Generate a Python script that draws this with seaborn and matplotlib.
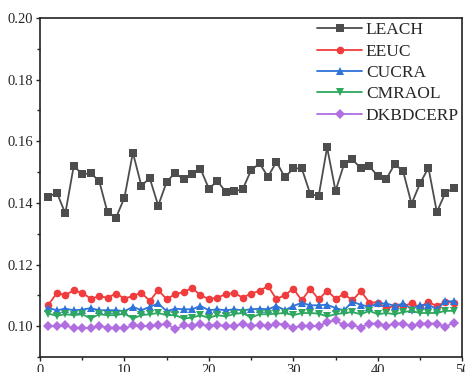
import numpy as np
import pandas as pd
import seaborn as sns
import matplotlib.pyplot as plt
from matplotlib.ticker import MultipleLocator

rounds = list(range(1, 50))
names = ['LEACH', 'EEUC', 'CUCRA', 'CMRAOL', 'DKBDCERP']

leach = [0.1420, 0.1433, 0.1366, 0.1520, 0.1493, 0.1496, 0.1472, 0.1369, 0.1352, 0.1417,
         0.1563, 0.1456, 0.1480, 0.1391, 0.1468, 0.1498, 0.1476, 0.1493, 0.1511, 0.1446,
         0.1471, 0.1436, 0.1438, 0.1444, 0.1506, 0.1528, 0.1485, 0.1533, 0.1483, 0.1512,
         0.1512, 0.1429, 0.1422, 0.1580, 0.1439, 0.1525, 0.1541, 0.1512, 0.1519, 0.1487,
         0.1477, 0.1526, 0.1503, 0.1397, 0.1463, 0.1514, 0.1370, 0.1433, 0.1447]
eeuc = [0.1070, 0.1108, 0.1101, 0.1117, 0.1108, 0.1090, 0.1097, 0.1093, 0.1106, 0.1090,
        0.1098, 0.1109, 0.1082, 0.1117, 0.1088, 0.1104, 0.1111, 0.1124, 0.1101, 0.1088,
        0.1093, 0.1104, 0.1108, 0.1093, 0.1106, 0.1115, 0.1130, 0.1088, 0.1101, 0.1122,
        0.1084, 0.1122, 0.1087, 0.1115, 0.1090, 0.1104, 0.1084, 0.1114, 0.1077, 0.1077,
        0.1059, 0.1066, 0.1066, 0.1074, 0.1063, 0.1079, 0.1065, 0.1079, 0.1077]
cucra = [0.1059, 0.1052, 0.1057, 0.1052, 0.1054, 0.1059, 0.1052, 0.1052, 0.1052, 0.1049,
         0.1063, 0.1052, 0.1063, 0.1074, 0.1049, 0.1057, 0.1055, 0.1055, 0.1066, 0.1052,
         0.1055, 0.1052, 0.1055, 0.1052, 0.1055, 0.1057, 0.1055, 0.1066, 0.1052, 0.1066,
         0.1076, 0.1068, 0.1068, 0.1070, 0.1059, 0.1052, 0.1079, 0.1070, 0.1063, 0.1074,
         0.1074, 0.1066, 0.1074, 0.1057, 0.1068, 0.1070, 0.1055, 0.1081, 0.1081]
cmraol = [0.1041, 0.1034, 0.1039, 0.1036, 0.1039, 0.1025, 0.1039, 0.1036, 0.1036, 0.1041,
          0.1025, 0.1036, 0.1039, 0.1043, 0.1036, 0.1036, 0.1025, 0.1028, 0.1036, 0.1027,
          0.1036, 0.1032, 0.1040, 0.1043, 0.1028, 0.1039, 0.1039, 0.1041, 0.1043, 0.1036,
          0.1043, 0.1043, 0.1041, 0.1032, 0.1039, 0.1043, 0.1046, 0.1039, 0.1050, 0.1039,
          0.1043, 0.1039, 0.1046, 0.1050, 0.1043, 0.1043, 0.1043, 0.1050, 0.1050]
dkbdcerp = [0.1000, 0.1000, 0.1003, 0.0993, 0.0996, 0.0993, 0.1001, 0.0996, 0.0994, 0.0993,
            0.1003, 0.1000, 0.1001, 0.1003, 0.1009, 0.0990, 0.1003, 0.1001, 0.1006, 0.1001,
            0.1005, 0.1000, 0.1000, 0.1009, 0.1000, 0.1005, 0.1000, 0.1009, 0.1005, 0.0996,
            0.1001, 0.1001, 0.1000, 0.1014, 0.1019, 0.1003, 0.1003, 0.0996, 0.1009, 0.1009,
            0.1000, 0.1009, 0.1009, 0.1000, 0.1009, 0.1009, 0.1009, 0.0998, 0.1012]

series = [leach, eeuc, cucra, cmraol, dkbdcerp]
colors = ['#4d4d4d', '#f03c3c', '#2e74d8', '#2ea85e', '#b06ee0']
marks = ['s', 'o', '^', 'v', 'D']

df = pd.DataFrame({
    'x': rounds * len(names),
    'y': sum(series, []),
    'alg': [n for n in names for _ in rounds],
})

sns.set_style('ticks')
plt.rcParams['font.family'] = ['Liberation Serif', 'DejaVu Serif']

fig = plt.figure(figsize=(4.65, 3.72), dpi=100)
ax = fig.add_axes([0.086, 0.040, 0.908, 0.912])

sns.lineplot(data=df, x='x', y='y', hue='alg', style='alg',
             palette=dict(zip(names, colors)), markers=dict(zip(names, marks)),
             dashes=False, markersize=5.5, markeredgewidth=0, linewidth=1.3, ax=ax)

ax.set_xlim(0, 50)
ax.set_ylim(0.09, 0.20)
ax.xaxis.set_major_locator(MultipleLocator(10))
ax.xaxis.set_minor_locator(MultipleLocator(5))
ax.yaxis.set_major_locator(MultipleLocator(0.02))
ax.yaxis.set_minor_locator(MultipleLocator(0.01))
ax.yaxis.set_major_formatter(plt.FuncFormatter(lambda v, p: f'{v:.2f}'))
ax.tick_params(which='major', direction='out', length=3, width=1, pad=2, labelsize=10.5)
ax.tick_params(which='minor', direction='out', length=2, width=1)
ax.set_xlabel('')
ax.set_ylabel('')
for s in ax.spines.values():
    s.set_visible(True)
    s.set_linewidth(1.2)
    s.set_color('#222222')

h, l = ax.get_legend_handles_labels()
ax.legend(h, l, loc='upper left', bbox_to_anchor=(0.64, 1.008), frameon=False,
          fontsize=12.5, handlelength=2.6, handletextpad=0.2, labelspacing=0.3,
          borderaxespad=0)

fig.savefig('out.png', dpi=100)
